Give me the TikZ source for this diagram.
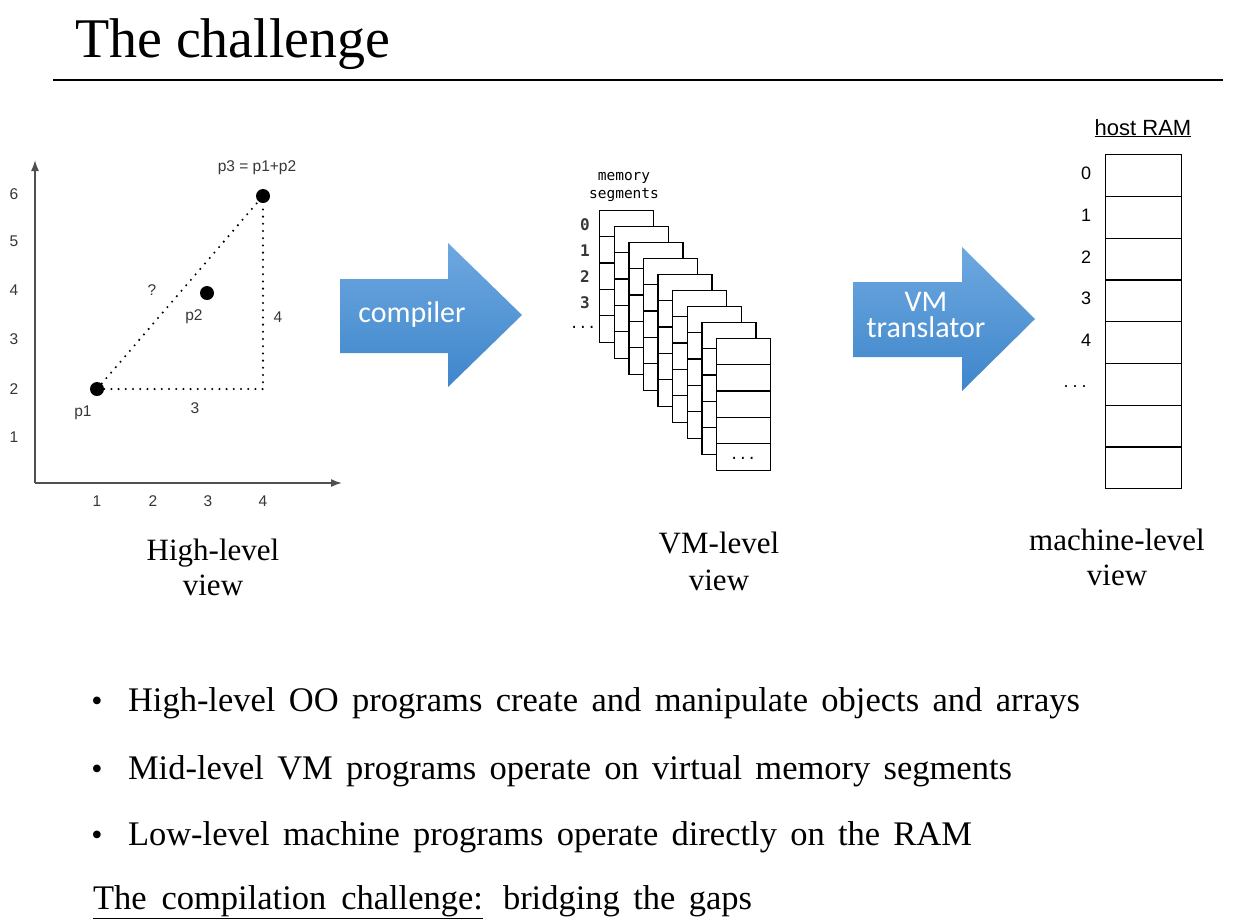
\documentclass[tikz,border=0pt]{standalone}
\usepackage{fontspec}
\setmainfont{Liberation Serif}
\newfontfamily\arialf{Liberation Sans}
\newfontfamily\calibf{Carlito}
\newfontfamily\monof{DejaVu Sans Mono}
\usetikzlibrary{arrows.meta,calc}
\definecolor{arrtop}{RGB}{110,168,224}
\definecolor{arrbot}{RGB}{62,134,203}
\definecolor{chartgray}{RGB}{55,55,55}
\definecolor{axisgray}{RGB}{80,80,80}
\begin{document}
\begin{tikzpicture}[x=1pt,y=-1pt,
  txt/.style={inner sep=0pt, outer sep=0pt},
  chartlbl/.style={txt, font=\arialf\fontsize{15.5}{17}\selectfont, text=chartgray},
  dotp/.style={circle, fill=black, inner sep=0pt, minimum size=14pt},
  dotline/.style={line width=2.3pt, dash pattern=on 0pt off 7.2pt, line cap=round},
  axis/.style={line width=1.6pt, draw=axisgray, -{Latex[length=11pt,width=8pt]}},
  bigarrow/.style={top color=arrtop, bottom color=arrbot, draw=none},
  arrtext/.style={txt, text=white, align=center, font=\calibf\fontsize{30}{26}\selectfont},
  captxt/.style={txt, anchor=base, font=\fontsize{31}{35}\selectfont},
  bultxt/.style={txt, anchor=base west, font=\fontsize{34.5}{38}\selectfont},
  segbox/.style={draw, fill=white, line width=1.4pt, inner sep=0pt, minimum width=54pt, minimum height=132pt, anchor=north west},
  seglbl/.style={txt, font=\monof\fontsize{14.5}{18}\selectfont},
  segnum/.style={txt, font=\monof\bfseries\fontsize{16}{18}\selectfont, text=chartgray},
  ramlbl/.style={txt, font=\arialf\fontsize{18}{20}\selectfont},
]
\useasboundingbox (0,0) rectangle (1247,922);
\fill[white] (0,0) rectangle (1247,922);

% title
\node[txt, anchor=base west, font=\fontsize{56}{60}\selectfont] (title) at (75,57) {The challenge};
\coordinate (ruleL) at (53,80);
\coordinate (ruleR) at (1223,80);
\draw[line width=2pt] (ruleL) -- (ruleR);

% chart
\coordinate (origin) at (35,483);
\coordinate (ytip) at (35,160);
\coordinate (xtip) at (342,483);
\draw[axis] (origin) -- (ytip);
\draw[axis] (origin) -- (xtip);
\foreach \v/\yy in {6/194,5/241,4/290,3/339,2/389,1/437}
  \node[chartlbl] (yl\v) at (14,\yy) {\v};
\foreach \v/\xx in {1/97,2/153,3/208,4/263}
  \node[chartlbl] (xl\v) at (\xx,501) {\v};
\node[dotp] (p1) at (97,389) {};
\node[dotp] (p2) at (207,293) {};
\node[dotp] (p3) at (263,196) {};
\coordinate (corner) at (263,389);
\draw[dotline] (p1) -- (p3);
\draw[dotline] (p1) -- (corner) -- (p3);
\node[chartlbl] (p1l) at (83,413) {p1};
\node[chartlbl] (p2l) at (194,317) {p2};
\node[chartlbl] (p3l) at (257,168) {p3 = p1+p2};
\node[chartlbl] (ql) at (152,290) {?};
\node[chartlbl] (vl) at (278,317) {4};
\node[chartlbl] (hl) at (195,408) {3};

% compiler arrow
\path[bigarrow] (340,279) -- (448,279) -- (448,243) -- (522,315) -- (448,387) -- (448,353) -- (340,353) -- cycle;
\node[arrtext, anchor=base] (comp) at (412,322) {compiler};

% VM translator arrow
\path[bigarrow] (853,282) -- (962,282) -- (962,247) -- (1035,319) -- (962,391) -- (962,357) -- (853,357) -- cycle;
\node[arrtext] (vmt) at (926,314.5) {VM\\translator};

% memory segments
\node[seglbl, anchor=base] (ms1) at (624,180) {memory};
\node[seglbl, anchor=base] (ms2) at (624,198) {segments};
\foreach \i in {0,...,8} {
  \pgfmathsetmacro\bx{599+14.6*\i}
  \pgfmathsetmacro\by{210+16*\i}
  \node[segbox] (seg\i) at (\bx,\by) {};
  \foreach \r in {1,...,4}
    \draw[line width=1.4pt] ($(seg\i.north west)+(0,26.4*\r)$) -- ++(54,0);
}
\foreach \v/\yy in {0/225,1/251,2/277,3/303}
  \node[segnum] (sl\v) at (585,\yy) {\v};
\node[seglbl] (sldots) at (583,327) {...};
\node[seglbl] (lastdots) at (743,458) {...};

% host RAM
\node[txt, anchor=base, font=\arialf\fontsize{22}{24}\selectfont] (hram) at (1143,135) {\underline{host RAM}};
\foreach \k in {0,...,7}
  \node[draw, line width=1.4pt, inner sep=0pt, minimum width=76pt, minimum height=41.75pt, anchor=north west] (ram\k) at (1105,154+41.75*\k) {};
\foreach \v/\yy in {0/173,1/215,2/257,3/298,4/340}
  \node[ramlbl] (rl\v) at (1086,\yy) {\v};
\node[ramlbl] (rldots) at (1075,387) {.\hspace{4pt}.\hspace{4pt}.};

% captions
\node[captxt] (c1a) at (213,560) {High-level};
\node[captxt] (c1b) at (213,595) {view};
\node[captxt] (c2a) at (719,553) {VM-level};
\node[captxt] (c2b) at (719,590) {view};
\node[captxt] (c3a) at (1117,550) {machine-level};
\node[captxt] (c3b) at (1117,585) {view};

% bullets
\foreach \n/\yy in {1/711,2/779,3/845}
  \node[txt, anchor=base, font=\fontsize{32}{38}\selectfont] (bul\n) at (97,\yy) {\textbullet};
\node[bultxt] (l1) at (128,711) {\makebox[952pt][s]{High-level OO programs create and manipulate objects and arrays}};
\node[bultxt] (l2) at (128,779) {\makebox[884pt][s]{Mid-level VM programs operate on virtual memory segments}};
\node[bultxt] (l3) at (128,845) {\makebox[844pt][s]{Low-level machine programs operate directly on the RAM}};
\node[bultxt] (l4a) at (93,909) {\underline{\makebox[390pt][s]{The compilation challenge:}}};
\node[bultxt] (l4b) at (503,909) {\makebox[249pt][s]{bridging the gaps}};
\end{tikzpicture}
\end{document}
